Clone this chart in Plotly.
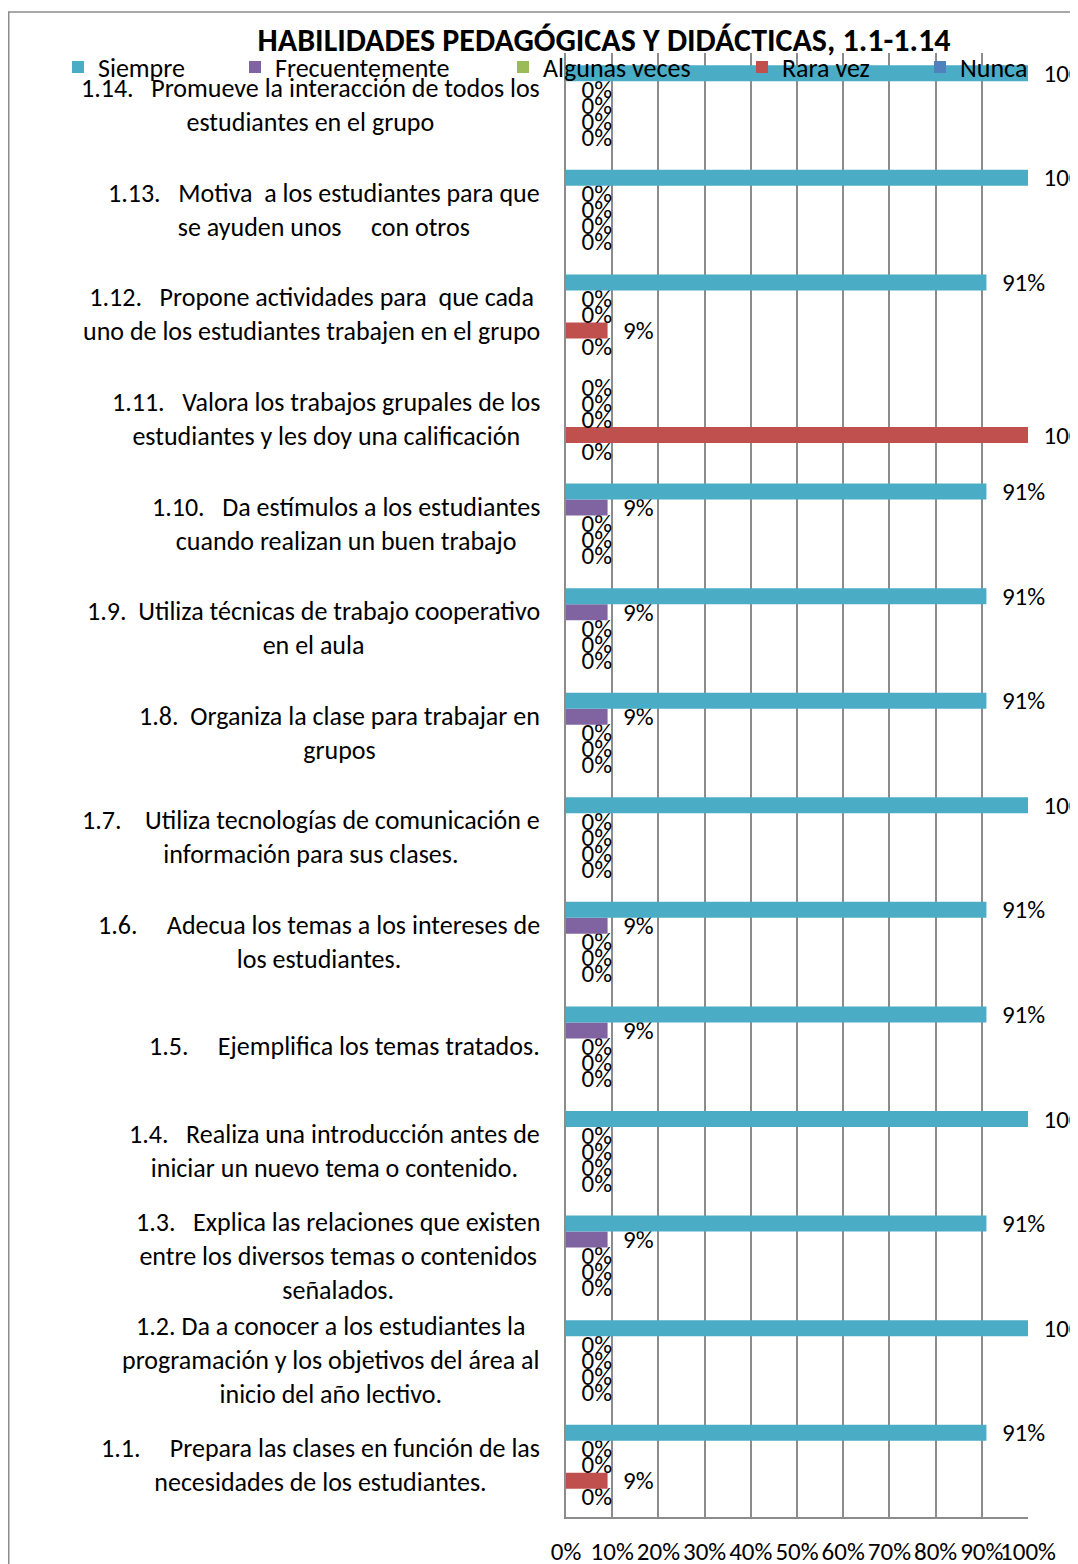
import plotly.graph_objects as go

NB = "\u00a0"

categorias = ["1.1", "1.2", "1.3", "1.4", "1.5", "1.6", "1.7",
              "1.8", "1.9", "1.10", "1.11", "1.12", "1.13", "1.14"]

etiquetas = [
    "1.1." + NB * 5 + "Prepara las clases en función de las<br>necesidades de los estudiantes.",
    "1.2. Da a conocer a los estudiantes la<br>programación y los objetivos del área al<br>inicio del año lectivo.",
    "1.3." + NB * 3 + "Explica las relaciones que existen<br>entre los diversos temas o contenidos<br>señalados.",
    "1.4." + NB * 3 + "Realiza una introducción antes de<br>iniciar un nuevo tema o contenido.",
    "1.5." + NB * 5 + "Ejemplifica los temas tratados.",
    "1.6." + NB * 5 + "Adecua los temas a los intereses de<br>los estudiantes.",
    "1.7." + NB * 4 + "Utiliza tecnologías de comunicación e<br>información para sus clases.",
    "1.8." + NB * 2 + "Organiza la clase para trabajar en<br>grupos",
    "1.9." + NB * 2 + "Utiliza técnicas de trabajo cooperativo<br>en el aula",
    "1.10." + NB * 3 + "Da estímulos a los estudiantes<br>cuando realizan un buen trabajo",
    "1.11." + NB * 3 + "Valora los trabajos grupales de los<br>estudiantes y les doy una calificación",
    "1.12." + NB * 3 + "Propone actividades para" + NB * 2 + "que cada<br>uno de los estudiantes trabajen en el grupo",
    "1.13." + NB * 3 + "Motiva" + NB * 2 + "a los estudiantes para que<br>se ayuden unos" + NB * 5 + "con otros",
    "1.14." + NB * 3 + "Promueve la interacción de todos los<br>estudiantes en el grupo",
]

siempre        = [91, 100, 91, 100, 91, 91, 100, 91, 91, 91, 0, 91, 100, 100]
frecuentemente = [0, 0, 9, 0, 9, 9, 0, 9, 9, 9, 0, 0, 0, 0]
algunas_veces  = [0, 0, 0, 0, 0, 0, 0, 0, 0, 0, 0, 0, 0, 0]
rara_vez       = [9, 0, 0, 0, 0, 0, 0, 0, 0, 0, 100, 9, 0, 0]
nunca          = [0, 0, 0, 0, 0, 0, 0, 0, 0, 0, 0, 0, 0, 0]

ticks_x = [0, 10, 20, 30, 40, 50, 60, 70, 80, 90, 100]

FONT = "Carlito, Calibri, Lato, sans-serif"
GRID = "#8c8c8c"

# la página html añade 8px de margen al body
OFF = 8
W, H = 1078 - OFF, 1564 - OFF
L, R, T, B = 566 - OFF, 50, 53 - OFF, 47
PW = W - L - R
PH = H - T - B

# (nombre, valores, color, legend id, x px del texto de la leyenda en pantalla)
series = [
    ("Siempre", siempre, "#4BACC6", "legend", 98),
    ("Frecuentemente", frecuentemente, "#8064A2", "legend2", 275),
    ("Algunas veces", algunas_veces, "#9BBB59", "legend3", 543),
    ("Rara vez", rara_vez, "#C0504D", "legend4", 782),
    ("Nunca", nunca, "#4F81BD", "legend5", 960),
]

fig = go.Figure()
# plotly apila de abajo hacia arriba: Siempre debe quedar arriba en cada grupo
for name, vals, color, leg, _ in reversed(series):
    fig.add_trace(go.Bar(
        y=categorias, x=vals, name=name, orientation="h",
        marker=dict(color=color, line=dict(width=0)),
        text=[f"{v}%" for v in vals],
        texttemplate="\u2002%{text}",
        textposition="outside",
        textfont=dict(family=FONT, size=25, color="#000000"),
        constraintext="none",
        cliponaxis=False,
        legend=leg,
        showlegend=True,
    ))

legends = {}
for name, vals, color, leg, tx in series:
    legends[leg] = dict(
        x=(tx - OFF - 40 - L) / PW, xanchor="left",
        y=(H - B - (67 - OFF)) / PH, yanchor="middle",
        bgcolor="rgba(0,0,0,0)",
        font=dict(family=FONT, size=26, color="#000000"),
        orientation="h", visible=True,
    )

annotations = [dict(
    text=lab, x=0, xref="paper", xshift=-24, xanchor="right",
    y=i, yref="y", yanchor="middle", showarrow=False, align="center",
    font=dict(family=FONT, size=26, color="#000000"),
) for i, lab in enumerate(etiquetas)]

fig.update_layout(
    width=W, height=H,
    margin=dict(l=L, r=R, t=T, b=B, autoexpand=False),
    paper_bgcolor="white", plot_bgcolor="white",
    showlegend=True,
    barmode="group", bargap=0.235, bargroupgap=0,
    title=dict(text="<b>HABILIDADES PEDAGÓGICAS Y DIDÁCTICAS, 1.1-1.14</b>",
               x=(604 - OFF) / W, xanchor="center", y=1 - (40 - OFF) / H, yanchor="middle",
               font=dict(family=FONT, size=32, color="#000000")),
    annotations=annotations,
    shapes=[dict(type="rect", xref="paper", yref="paper",
                 x0=(0.75 - L) / PW, x1=(W + 20 - L) / PW,
                 y0=(H - B - (H + 20)) / PH, y1=(H - B - (12 - OFF)) / PH,
                 line=dict(color="#8c8c8c", width=1.5), layer="below")],
    **legends,
)

fig.update_xaxes(
    range=[0, 100], tickvals=ticks_x, ticktext=[f"{t}%" for t in ticks_x],
    showgrid=True, gridcolor=GRID, gridwidth=2,
    showline=True, linecolor=GRID, linewidth=2,
    zeroline=False, ticks="", ticklabelstandoff=11, tickangle=0,
    tickfont=dict(family=FONT, size=25, color="#000000"),
)
fig.update_yaxes(
    type="category", categoryorder="array", categoryarray=categorias,
    showticklabels=False, showgrid=False, ticks="",
    showline=True, linecolor=GRID, linewidth=2, zeroline=False,
)

fig.write_html("out.html")
